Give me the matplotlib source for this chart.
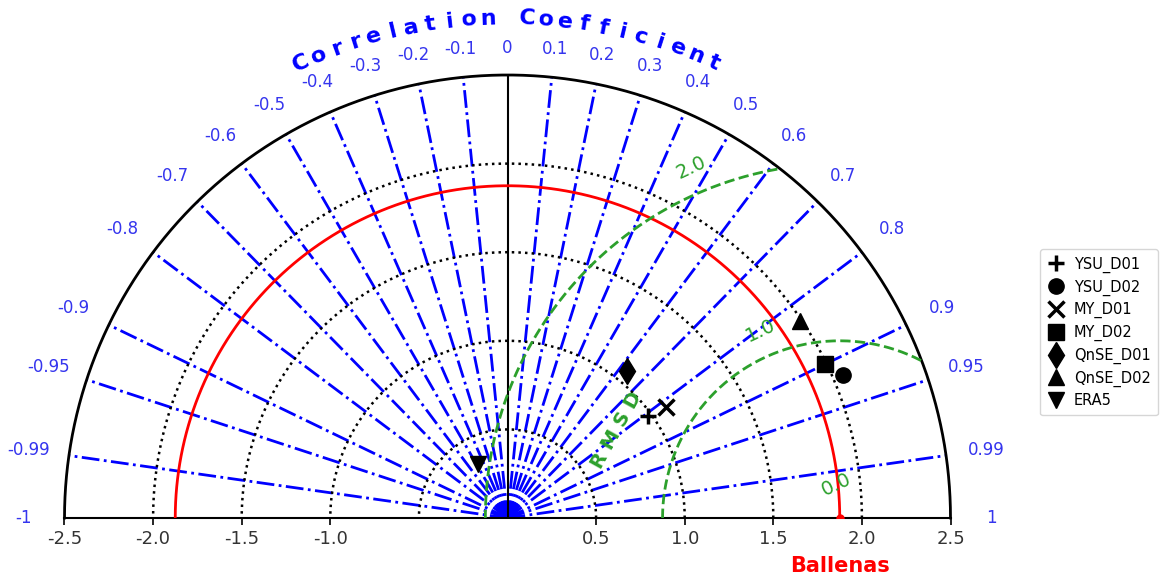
import numpy as np
import matplotlib.pyplot as plt
from matplotlib.lines import Line2D

# model statistics (standard deviation, correlation) against the observation
models = ['YSU_D01', 'YSU_D02', 'MY_D01', 'MY_D02', 'QnSE_D01', 'QnSE_D02', 'ERA5']
std_dev = [0.98, 2.06, 1.09, 1.99, 1.07, 1.99, 0.35]
corr_coef = [0.81, 0.92, 0.82, 0.90, 0.63, 0.83, -0.48]
markers = ['+', 'o', 'x', 's', 'd', '^', 'v']

ref_name = 'Ballenas'
ref_std = 1.875

corr_ticks = [-0.99, -0.95, -0.9, -0.8, -0.7, -0.6, -0.5, -0.4, -0.3, -0.2, -0.1,
              0.1, 0.2, 0.3, 0.4, 0.5, 0.6, 0.7, 0.8, 0.9, 0.95, 0.99]
corr_labels = ['-1', '-0.99', '-0.95', '-0.9', '-0.8', '-0.7', '-0.6', '-0.5', '-0.4',
               '-0.3', '-0.2', '-0.1', '0', '0.1', '0.2', '0.3', '0.4', '0.5', '0.6',
               '0.7', '0.8', '0.9', '0.95', '0.99', '1']
std_ticks = [0.5, 1.0, 1.5, 2.0]
rms_ticks = [0.0, 1.0, 2.0]
x_ticks = [-2.5, -2.0, -1.5, -1.0, 0.5, 1.0, 1.5, 2.0, 2.5]
r_max = 2.5

green = '#2ca02c'
lblue = '#3535ee'

fig = plt.figure(figsize=(11.67, 5.82), dpi=100)
ax = fig.add_axes([64 / 1167, 64 / 582, 887 / 1167, 443 / 582])
ax.set_xlim(-r_max, r_max)
ax.set_ylim(0, r_max)
ax.set_aspect('equal')
for s in ['left', 'right', 'top']:
    ax.spines[s].set_visible(False)
ax.spines['bottom'].set_linewidth(1.5)
ax.set_yticks([])
ax.set_xticks(x_ticks)
ax.set_xticklabels(['%.1f' % v for v in x_ticks], fontsize=13, color='#333333')
ax.tick_params(axis='x', direction='out', length=5, width=1.2)

t = np.linspace(0, np.pi, 400)

# correlation rays
for c in corr_ticks:
    th = np.arccos(c)
    ax.plot([0, r_max * np.cos(th)], [0, r_max * np.sin(th)], color='blue',
            ls='-.', lw=2, zorder=1)
ax.plot([0, 0], [0, r_max], color='black', lw=1.5, zorder=2)

# std dev arcs
for r in std_ticks:
    ax.plot(r * np.cos(t), r * np.sin(t), color='black', ls=':', lw=1.8, zorder=2)
ax.plot(r_max * np.cos(t), r_max * np.sin(t), color='black', lw=2, zorder=3, clip_on=False)

# reference arc
ax.plot(ref_std * np.cos(t), ref_std * np.sin(t), color='red', lw=2, zorder=3)
ax.plot([ref_std], [0], 'o', color='red', ms=5, zorder=3)

# centred RMS difference arcs
lab_ang = np.deg2rad(113)
for r in rms_ticks:
    if r > 0:
        xs = ref_std + r * np.cos(t)
        ys = r * np.sin(t)
        xs = np.where(np.hypot(xs, ys) <= r_max, xs, np.nan)
        ax.plot(xs, ys, color=green, ls='--', lw=2, zorder=3)
        lr = r + 0.15
        lx, ly = ref_std + lr * np.cos(lab_ang), lr * np.sin(lab_ang)
    else:
        lx, ly = ref_std - 0.02, 0.19
    ax.text(lx, ly, '%.1f' % r, color=green, fontsize=14, rotation=25,
            ha='center', va='center', zorder=4)
ax.text(0.617, 0.496, 'R M S D', color=green, fontsize=14, fontweight='bold',
        rotation=61, ha='center', va='center', zorder=4)

# correlation labels
for lab in corr_labels:
    th = np.arccos(float(lab))
    rl = 2.65 + 0.08 * abs(np.cos(th))
    ax.text(rl * np.cos(th), rl * np.sin(th), lab, color=lblue, fontsize=12,
            ha='center', va='center', clip_on=False)

# curved axis title
title = 'Correlation Coefficient'
angs = np.linspace(114.4, 65.6, len(title))
for ch, a in zip(title, angs):
    ar = np.deg2rad(a)
    ax.text(2.82 * np.cos(ar), 2.82 * np.sin(ar), ch, color='blue', fontsize=16,
            fontweight='bold', rotation=a - 90, ha='center', va='center', clip_on=False)

ax.text(ref_std, -0.27, ref_name, color='red', fontsize=15, fontweight='bold',
        ha='center', va='center')

# model points
handles = []
for name, s, c, m in zip(models, std_dev, corr_coef, markers):
    th = np.arccos(c)
    kw = dict(mew=2.5) if m in '+x' else dict(mew=1)
    ms = 13 if m == 'd' else 11
    ax.plot(s * np.cos(th), s * np.sin(th), m, color='black', ms=ms, zorder=5, **kw)
    handles.append(Line2D([], [], marker=m, ls='none', color='black', ms=ms, label=name, **kw))

fig.legend(handles=handles, loc='upper left', bbox_to_anchor=(1033 / 1167, 1 - 242 / 582),
           fontsize=10.5, handlelength=1.2, handletextpad=0.6, borderpad=0.5,
           labelspacing=0.45, frameon=True)

fig.savefig('out.png', dpi=100)
